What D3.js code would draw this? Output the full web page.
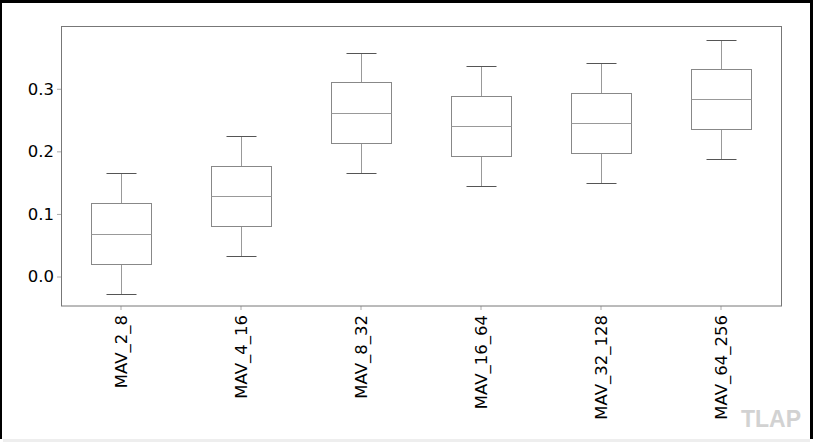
<!DOCTYPE html>
<meta charset="utf-8">
<style>
    body { margin: 0; background: #fff; }
    svg { display: block; font-family: "DejaVu Sans", sans-serif; }
</style>
<svg width="813" height="442"></svg>
<script src="https://d3js.org/d3.v7.min.js"></script>
<script>

    // categories and five-number summaries
    var categories = ["MAV_2_8", "MAV_4_16", "MAV_8_32", "MAV_16_64", "MAV_32_128", "MAV_64_256"];
    var whiskerLow = [-0.0276, 0.032, 0.166, 0.145, 0.150, 0.188];
    var q1 = [0.0203, 0.080, 0.2137, 0.1925, 0.198, 0.236];
    var median = [0.068, 0.129, 0.2616, 0.2408, 0.2456, 0.2834];
    var q3 = [0.1175, 0.177, 0.3105, 0.288, 0.293, 0.331];
    var whiskerHigh = [0.1655, 0.225, 0.357, 0.3365, 0.341, 0.3785];
    var yTicks = [0.0, 0.1, 0.2, 0.3];

    var svg = d3.select("svg"),
        width = +svg.attr("width"),
        height = +svg.attr("height");

    var margin = {left: 61, top: 26.5, right: 32, bottom: 136};

    // frame around the picture
    svg.append("rect").attr("x", 3).attr("y", 439).attr("width", 807).attr("height", 3).attr("fill", "#eeeeee");
    svg.append("rect").attr("x", 0).attr("y", 0).attr("width", width).attr("height", 3).attr("fill", "#000");
    svg.append("rect").attr("x", 0).attr("y", 0).attr("width", 2).attr("height", 439).attr("fill", "#000");
    svg.append("rect").attr("x", 810).attr("y", 0).attr("width", 3).attr("height", 439).attr("fill", "#000");

    var x = d3.scaleBand()
        .domain(categories)
        .range([margin.left, width - margin.right])
        .paddingInner(0)
        .paddingOuter(0);

    var y = d3.scaleLinear()
        .domain([-0.0471, 0.3995])
        .range([height - margin.bottom, margin.top]);

    var data = categories.map(function (c, i) {
        return {name: c, lo: whiskerLow[i], q1: q1[i], med: median[i], q3: q3[i], hi: whiskerHigh[i]};
    });

    var boxW = x.bandwidth() / 2,
        capW = x.bandwidth() / 4;

    var g = svg.append("g").selectAll("g")
        .data(data)
        .enter().append("g")
        .attr("transform", function (d) { return "translate(" + (Math.round(x(d.name) + x.bandwidth() / 2) + 0.5) + ",0)"; });

    // whiskers
    g.append("line")
        .attr("y1", function (d) { return Math.round(y(d.hi)) + 0.5; })
        .attr("y2", function (d) { return Math.round(y(d.q3)) + 0.5; })
        .attr("stroke", "#999").attr("stroke-width", 1);
    g.append("line")
        .attr("y1", function (d) { return Math.round(y(d.q1)) + 0.5; })
        .attr("y2", function (d) { return Math.round(y(d.lo)) + 0.5; })
        .attr("stroke", "#999").attr("stroke-width", 1);

    // caps
    g.append("line")
        .attr("x1", -capW / 2).attr("x2", capW / 2)
        .attr("y1", function (d) { return Math.round(y(d.hi)) + 0.5; })
        .attr("y2", function (d) { return Math.round(y(d.hi)) + 0.5; })
        .attr("stroke", "#555").attr("stroke-width", 1);
    g.append("line")
        .attr("x1", -capW / 2).attr("x2", capW / 2)
        .attr("y1", function (d) { return Math.round(y(d.lo)) + 0.5; })
        .attr("y2", function (d) { return Math.round(y(d.lo)) + 0.5; })
        .attr("stroke", "#555").attr("stroke-width", 1);

    // boxes
    g.append("rect")
        .attr("x", -boxW / 2)
        .attr("width", boxW)
        .attr("y", function (d) { return Math.round(y(d.q3)) + 0.5; })
        .attr("height", function (d) { return Math.round(y(d.q1)) - Math.round(y(d.q3)); })
        .attr("fill", "none")
        .attr("stroke", "#888").attr("stroke-width", 1);

    // medians
    g.append("line")
        .attr("x1", -boxW / 2).attr("x2", boxW / 2)
        .attr("y1", function (d) { return Math.round(y(d.med)) + 0.5; })
        .attr("y2", function (d) { return Math.round(y(d.med)) + 0.5; })
        .attr("stroke", "#999").attr("stroke-width", 1);

    // y axis
    var yAxis = svg.append("g")
        .attr("transform", "translate(" + margin.left + ",0)")
        .call(d3.axisLeft(y).tickValues(yTicks).tickFormat(d3.format(".1f")).tickSize(4).tickPadding(3));
    yAxis.select(".domain").remove();
    yAxis.selectAll("line").attr("stroke", "#aaa");
    yAxis.selectAll("text").attr("font-size", "16.5px").attr("fill", "#000").attr("font-family", "DejaVu Sans");

    // x axis
    var xAxis = svg.append("g")
        .attr("transform", "translate(0," + (height - margin.bottom) + ")")
        .call(d3.axisBottom(x).tickSize(4).tickPadding(3));
    xAxis.select(".domain").remove();
    xAxis.selectAll("line").attr("stroke", "#aaa");
    xAxis.selectAll("text")
        .attr("font-size", "16.5px").attr("fill", "#000").attr("font-family", "DejaVu Sans")
        .attr("transform", "rotate(-90)")
        .attr("text-anchor", "end")
        .attr("x", -9)
        .attr("y", 0)
        .attr("dy", "0.35em");

    // plot frame
    svg.append("rect")
        .attr("x", margin.left + 0.5)
        .attr("y", margin.top)
        .attr("width", width - margin.right - margin.left)
        .attr("height", height - margin.bottom - margin.top)
        .attr("fill", "none")
        .attr("stroke", "#777").attr("stroke-width", 1);

    // watermark
    svg.append("text")
        .attr("x", 801).attr("y", 427)
        .attr("text-anchor", "end")
        .attr("font-family", "Liberation Sans, Arial, sans-serif")
        .attr("font-weight", "bold")
        .attr("font-size", "23px")
        .attr("fill", "#d2d2d2")
        .text("TLAP");

</script>
